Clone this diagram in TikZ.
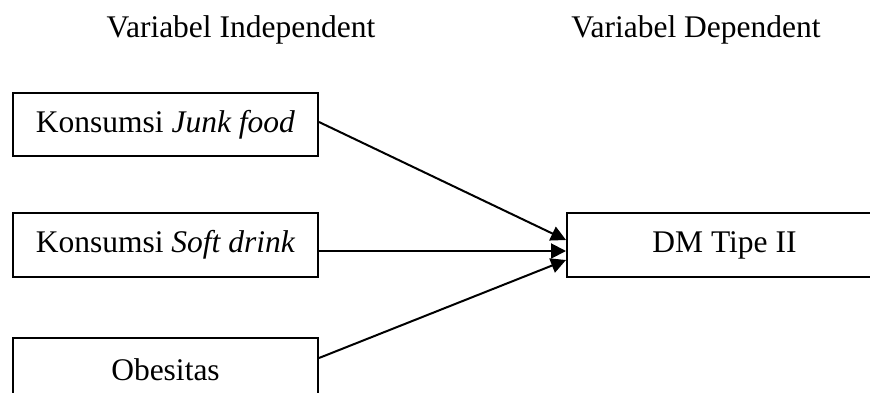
\documentclass[tikz,border=0pt]{standalone}
\usepackage{fontspec}
\setmainfont{Liberation Serif}
\usetikzlibrary{arrows.meta}
\begin{document}
\begin{tikzpicture}[x=1pt,y=-1pt,
  box/.style={draw=black, line width=2pt, minimum width=305pt, minimum height=64pt, inner sep=0pt, font=\fontsize{31.5}{38}\selectfont},
  head/.style={font=\fontsize{31.5}{38}\selectfont, inner sep=0pt},
  conn/.style={line width=2pt, -{Triangle[length=15pt,width=15pt]}}]
\useasboundingbox (0,0) rectangle (870,392);
\clip (0,0) rectangle (870,392);
\fill[white] (0,0) rectangle (870,392);
\node[head, anchor=base] (h1) at (241,37) {Variabel Independent};
\node[head, anchor=base] (h2) at (696,37) {Variabel Dependent};
\node[box, minimum height=63pt] (b1) at (165.5,124.5) {Konsumsi \textit{Junk food}};
\node[box] (b2) at (165.5,245) {Konsumsi \textit{Soft drink}};
\node[box] (b3) at (165.5,370) {Obesitas};
\node[box, minimum width=315pt] (dm) at (724.5,245) {DM Tipe II};
\draw[conn] ([yshift=2.5pt]b1.east) -- ([yshift=5pt]dm.west);
\draw[conn] ([yshift=-6pt]b2.east) -- ([yshift=-6pt]dm.west);
\draw[conn] ([yshift=12pt]b3.east) -- ([yshift=-15pt]dm.west);
\end{tikzpicture}
\end{document}
